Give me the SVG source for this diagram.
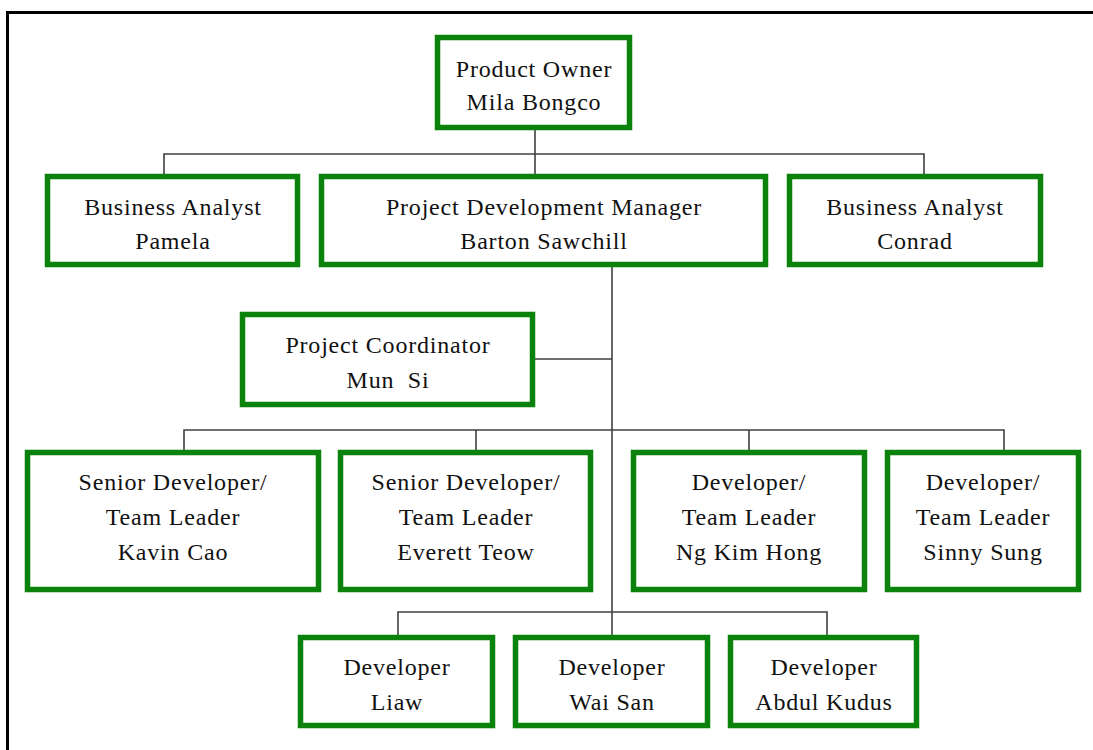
<svg xmlns="http://www.w3.org/2000/svg" width="1093" height="750" viewBox="0 0 1093 750">
<style>
.box{fill:#ffffff;stroke:#0b820b;stroke-width:5.5}
.lbl{font-family:"Liberation Serif","Times New Roman",serif;font-size:24px;letter-spacing:0.8px;fill:#111;text-anchor:middle;white-space:pre}
.con{stroke:#404040;stroke-width:1.6;fill:none}
</style>
<rect x="0" y="0" width="1093" height="750" fill="#ffffff"/>
<path d="M7.5,750 V12.5 H1093" fill="none" stroke="#000" stroke-width="3"/>
<g id="connectors">
<path class="con" d="M535,130 V174 M164,174 V154 H924 V174"/>
<path class="con" d="M612,267 V635 M535,359 H612"/>
<path class="con" d="M184,450 V430 H1004 V450 M476,430 V450 M749,430 V450"/>
<path class="con" d="M398,635 V612 H827 V635"/>
</g>
<g id="product-owner"><rect class="box" x="437.5" y="37.5" width="192" height="90"/><text class="lbl" x="534" y="77">Product Owner</text><text class="lbl" x="534" y="110">Mila Bongco</text></g>
<g id="ba-pamela"><rect class="box" x="47.5" y="176.5" width="250" height="88"/><text class="lbl" x="173" y="215">Business Analyst</text><text class="lbl" x="173" y="249">Pamela</text></g>
<g id="pdm"><rect class="box" x="321.5" y="176.5" width="444" height="88"/><text class="lbl" x="544" y="215">Project Development Manager</text><text class="lbl" x="544" y="249">Barton Sawchill</text></g>
<g id="ba-conrad"><rect class="box" x="789.5" y="176.5" width="251" height="88"/><text class="lbl" x="915" y="215">Business Analyst</text><text class="lbl" x="915" y="249">Conrad</text></g>
<g id="coordinator"><rect class="box" x="242.5" y="314.5" width="290" height="90"/><text class="lbl" x="388" y="353">Project Coordinator</text><text class="lbl" x="388" y="388">Mun  Si</text></g>
<g id="kavin"><rect class="box" x="27.5" y="452.5" width="291" height="137"/><text class="lbl" x="173" y="490">Senior Developer/</text><text class="lbl" x="173" y="525">Team Leader</text><text class="lbl" x="173" y="560">Kavin Cao</text></g>
<g id="everett"><rect class="box" x="340.5" y="452.5" width="250" height="137"/><text class="lbl" x="466" y="490">Senior Developer/</text><text class="lbl" x="466" y="525">Team Leader</text><text class="lbl" x="466" y="560">Everett Teow</text></g>
<g id="ng"><rect class="box" x="633.5" y="452.5" width="231" height="137"/><text class="lbl" x="749" y="490">Developer/</text><text class="lbl" x="749" y="525">Team Leader</text><text class="lbl" x="749" y="560">Ng Kim Hong</text></g>
<g id="sinny"><rect class="box" x="887.5" y="452.5" width="191" height="137"/><text class="lbl" x="983" y="490">Developer/</text><text class="lbl" x="983" y="525">Team Leader</text><text class="lbl" x="983" y="560">Sinny Sung</text></g>
<g id="liaw"><rect class="box" x="300.5" y="637.5" width="192" height="88"/><text class="lbl" x="397" y="675">Developer</text><text class="lbl" x="397" y="710">Liaw</text></g>
<g id="waisan"><rect class="box" x="515.5" y="637.5" width="192" height="88"/><text class="lbl" x="612" y="675">Developer</text><text class="lbl" x="612" y="710">Wai San</text></g>
<g id="abdul"><rect class="box" x="730.5" y="637.5" width="186" height="88"/><text class="lbl" x="824" y="675">Developer</text><text class="lbl" x="824" y="710">Abdul Kudus</text></g>
</svg>
